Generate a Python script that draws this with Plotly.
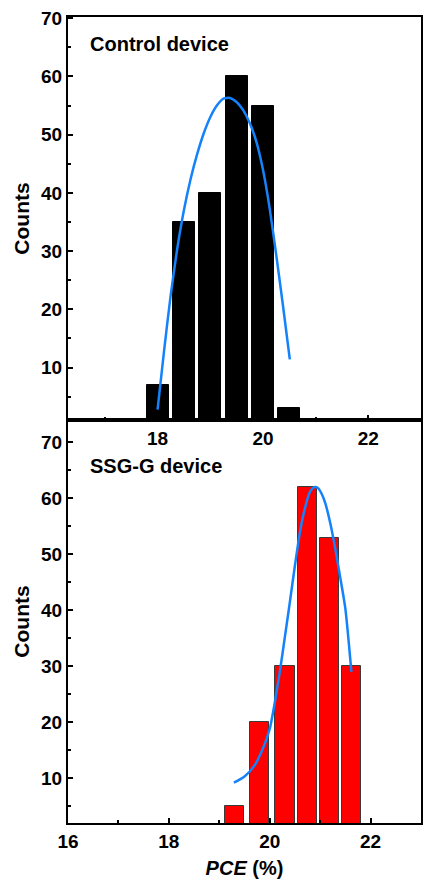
import plotly.graph_objects as go
from plotly.subplots import make_subplots

# Histogram bins (PCE, %) and counts
control_pce = [18.0, 18.5, 19.0, 19.5, 20.0, 20.5]
control_counts = [7, 35, 40, 60, 55, 3]

ssg_pce = [19.30, 19.80, 20.30, 20.75, 21.19, 21.62]
ssg_counts = [5, 20, 30, 62, 53, 30]

# Distribution fit curves (sampled points along the fitted line)
control_fit_x = [18.00, 18.125, 18.25, 18.375, 18.50, 18.625, 18.75, 18.875, 19.00, 19.125,
                 19.25, 19.375, 19.50, 19.625, 19.75, 19.875, 20.00, 20.125, 20.25, 20.375, 20.51]
control_fit_y = [2.8, 13.0, 22.5, 30.5, 37.0, 42.3, 46.6, 50.2, 53.0, 55.0,
                 56.2, 56.3, 55.6, 54.2, 52.0, 48.8, 44.0, 37.5, 29.5, 21.0, 11.4]

ssg_fit_x = [19.29, 19.50, 19.70, 19.85, 20.00, 20.10, 20.20, 20.30, 20.40, 20.50, 20.60, 20.70,
             20.80, 20.88, 20.95, 21.02, 21.10, 21.20, 21.30, 21.40, 21.50, 21.62]
ssg_fit_y = [9.2, 10.3, 12.3, 15.0, 18.8, 23.5, 29.0, 35.2, 41.5, 48.0, 54.0, 58.3,
             61.2, 62.0, 61.9, 61.0, 59.2, 55.6, 51.0, 45.8, 40.3, 29.0]

# Tick labels
x_ticks = [16, 18, 20, 22]
y_ticks = [10, 20, 30, 40, 50, 60, 70]

FONT = "Liberation Sans, Arial, sans-serif"
FIT_BLUE = "#1482FA"

fig = make_subplots(rows=2, cols=1, vertical_spacing=0)

fig.add_trace(go.Bar(x=control_pce, y=control_counts, width=0.42,
                     marker=dict(color="#000000", line=dict(color="#000000", width=1))),
              row=1, col=1)
fig.add_trace(go.Scatter(x=control_fit_x, y=control_fit_y, mode="lines",
                         line=dict(color=FIT_BLUE, width=2.5, shape="spline", smoothing=0.6)),
              row=1, col=1)

fig.add_trace(go.Bar(x=ssg_pce, y=ssg_counts, width=0.385,
                     marker=dict(color="#FF0000", line=dict(color="#3a3a3a", width=1))),
              row=2, col=1)
fig.add_trace(go.Scatter(x=ssg_fit_x, y=ssg_fit_y, mode="lines",
                         line=dict(color=FIT_BLUE, width=2.5, shape="spline", smoothing=0.6)),
              row=2, col=1)

axis_common = dict(
    showline=True, linecolor="black", linewidth=2, mirror=True,
    ticks="inside", ticklen=5, tickwidth=2, tickcolor="black",
    showgrid=False, zeroline=False,
    tickfont=dict(family=FONT, size=19, color="black"),
)

fig.update_xaxes(**axis_common,
                 tickvals=x_ticks, ticktext=[f"<b>{v}</b>" for v in x_ticks],
                 minor=dict(ticks="inside", ticklen=3, tickwidth=2, tickcolor="black", dtick=1, tick0=16))
fig.update_xaxes(range=[16.3, 23.0], row=1, col=1)
fig.update_xaxes(range=[16.0, 23.0], row=2, col=1,
                 title=dict(text="<b><i>PCE</i> (%)</b>", standoff=10,
                            font=dict(family=FONT, size=20, color="black")))

fig.update_yaxes(**axis_common,
                 tickvals=y_ticks, ticktext=[f"<b>{v}</b>" for v in y_ticks],
                 minor=dict(ticks="inside", ticklen=3, tickwidth=2, tickcolor="black", dtick=5, tick0=0),
                 title=dict(text="<b>Counts</b>", standoff=6,
                            font=dict(family=FONT, size=21, color="black")))
fig.update_yaxes(range=[1, 70.2], row=1, col=1)
fig.update_yaxes(range=[2, 74], row=2, col=1)

fig.add_annotation(text="<b>Control device</b>", xref="x domain", yref="y domain",
                   x=0.056, y=0.933, xanchor="left", yanchor="middle", showarrow=False,
                   font=dict(family=FONT, size=20, color="black"))
fig.add_annotation(text="<b>SSG-G device</b>", xref="x2 domain", yref="y2 domain",
                   x=0.056, y=0.886, xanchor="left", yanchor="middle", showarrow=False,
                   font=dict(family=FONT, size=20, color="black"))

fig.update_layout(
    width=427, height=888,
    margin=dict(l=68, r=4, t=17, b=65),
    paper_bgcolor="white", plot_bgcolor="white",
    showlegend=False, bargap=0,
)

fig.write_html("out.html")
